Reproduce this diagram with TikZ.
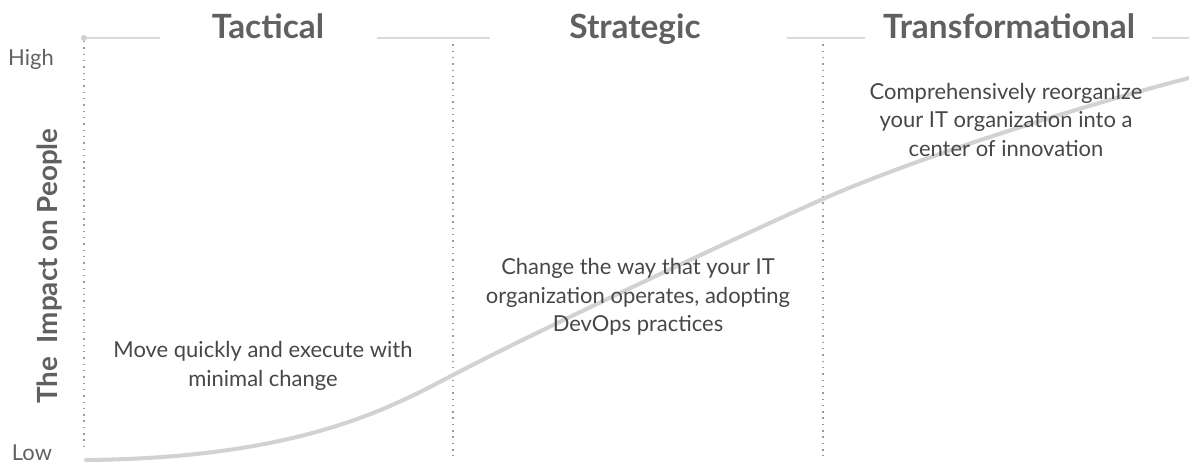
\documentclass[tikz,border=0pt]{standalone}
\usepackage{fontspec}
\setmainfont{Lato}
\definecolor{titlegray}{HTML}{5F6062}
\definecolor{bodygray}{HTML}{45474A}
\definecolor{axisgray}{HTML}{606162}
\definecolor{linegray}{HTML}{DADADA}
\definecolor{curvegray}{HTML}{D2D2D2}
\definecolor{dotgray}{HTML}{9A9A9A}
\definecolor{dotfill}{HTML}{CFCFCF}
\begin{document}
\begin{tikzpicture}[x=0.02cm,y=-0.02cm,
  title/.style={font=\fontsize{19}{22}\selectfont\bfseries, text=titlegray, inner sep=0, anchor=base},
  body/.style={font=\fontsize{12.5}{16.2}\selectfont, text=bodygray, align=center, inner sep=0},
  axis/.style={font=\fontsize{12.5}{14}\selectfont, text=axisgray, inner sep=0, anchor=base},
  ylabel/.style={font=\fontsize{15.8}{19}\selectfont\bfseries, text=titlegray, inner sep=0, anchor=base, rotate=90},
  topline/.style={draw=linegray, line width=1.1pt},
  divider/.style={draw=dotgray, line width=0.8pt, dash pattern=on 0.8pt off 2.8pt},
  curve/.style={draw=curvegray, line width=2.3pt, line cap=round},
  origindot/.style={circle, fill=dotfill, draw=linegray, inner sep=0, minimum size=0.11cm}]
\useasboundingbox (0,0) rectangle (1189,465);

% titles
\node[title] (t1) at (268,38.5) {Tactical};
\node[title] (t2) at (635,38.5) {Strategic};
\node[title] (t3) at (1009,38.5) {Transformational};

% top rule segments
\coordinate (l1e) at (160,38);
\coordinate (l2s) at (377,38);
\coordinate (l2e) at (490,38);
\coordinate (l3s) at (787,38);
\coordinate (l3e) at (865,38);
\coordinate (l4s) at (1152,38);
\coordinate (l4e) at (1189,38);

% dividers
\coordinate (d1b) at (84,448);
\coordinate (d2t) at (453,38);
\coordinate (d2b) at (453,456);
\coordinate (d3t) at (823,38);
\coordinate (d3b) at (823,456);
\draw[divider] (84,41) -- (d1b);
\draw[divider] (d2t) -- (d2b);
\draw[divider] (d3t) -- (d3b);

\draw[topline] (84,38) -- (l1e);
\draw[topline] (l2s) -- (l2e);
\draw[topline] (l3s) -- (l3e);
\draw[topline] (l4s) -- (l4e);
\node[origindot] (origin) at (84,38) {};

% curve
\coordinate (c0) at (86,460);
\coordinate (c1) at (453,375);
\coordinate (c2) at (823,199);
\coordinate (c3) at (1189,78);
\draw[curve] (c0) .. controls (300,458) and (390,408) .. (c1)
  .. controls (533,333) and (733,239) .. (c2)
  .. controls (923,155) and (1089,104) .. (c3);

% axis labels
\node[axis] (high) at (31,66) {High};
\node[axis] (low) at (32,460) {Low};
\node[ylabel] (ylab) at (57,266) {The\ \ Impact on People};

% descriptions
\node[body] (b1) at (263,366) {Move quickly and execute with\\minimal change};
\node[body] (b2) at (638,297) {Change the way that your IT\\organization operates, adopting\\DevOps practices};
\node[body] (b3) at (1006,120) {Comprehensively reorganize\\your IT organization into a\\center of innovation};
\end{tikzpicture}
\end{document}
